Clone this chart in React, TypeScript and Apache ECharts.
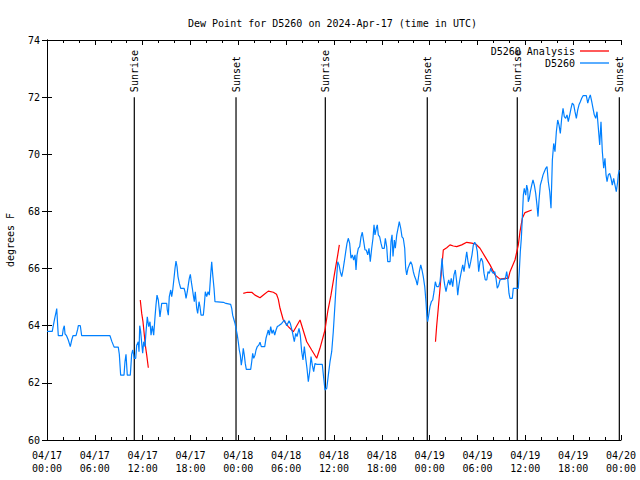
import React, { useEffect, useRef } from "react";
import * as echarts from "echarts";

// x values are hours since 2024-04-17 00:00 UTC
const TITLE = "Dew Point for D5260 on 2024-Apr-17 (time in UTC)";
const START_DAY = 17;
const X_MIN = 0;
const X_MAX = 72;
const Y_MIN = 60;
const Y_MAX = 74;

const sunHours = [10.95, 23.71, 34.91, 47.7, 58.99, 71.79];
const sunLabels = ["Sunrise", "Sunset", "Sunrise", "Sunset", "Sunrise", "Sunset"];
const sunLineTop = 72;

const observed: [number, number][] = [
  [0.0, 63.8], [0.66, 63.8], [0.79, 64.0], [1.0, 64.3], [1.13, 64.47], [1.22, 64.6], [1.34, 64.0], [1.42, 63.65],
  [1.92, 63.65], [2.04, 63.88], [2.17, 64.0], [2.26, 63.71], [2.45, 63.65], [2.67, 63.5], [2.92, 63.27], [3.1, 63.5],
  [3.26, 63.65], [3.64, 63.65], [3.85, 63.88], [3.93, 64.0], [4.18, 64.0], [4.35, 63.65], [7.9, 63.65], [8.12, 63.46],
  [8.32, 63.32], [8.44, 63.25], [8.94, 63.25], [9.07, 63.0], [9.24, 62.27], [9.66, 62.27], [9.78, 62.74], [9.91, 63.0],
  [10.07, 62.27], [10.45, 62.27], [10.62, 63.0], [10.75, 63.15], [10.88, 62.97], [10.95, 62.86], [11.13, 62.86],
  [11.25, 63.32], [11.45, 63.44], [11.54, 63.09], [11.63, 64.0], [11.75, 63.79], [11.88, 63.39], [12.0, 63.04],
  [12.13, 63.44], [12.29, 63.27], [12.42, 63.79], [12.58, 64.31], [12.76, 63.97], [12.92, 64.14], [13.05, 63.67],
  [13.21, 64.0], [13.38, 63.67], [13.55, 64.31], [13.67, 64.72], [13.8, 65.07], [13.96, 64.9], [14.09, 64.55],
  [14.17, 64.31], [14.39, 64.78], [15.02, 64.78], [15.09, 64.55], [15.22, 64.37], [15.34, 65.02], [15.52, 65.25],
  [15.64, 65.02], [15.77, 65.25], [15.93, 65.66], [16.06, 66.01], [16.18, 66.26], [16.31, 66.07], [16.43, 65.72],
  [16.6, 65.48], [16.77, 65.31], [17.19, 65.31], [17.31, 65.19], [17.44, 64.96], [17.6, 65.19], [17.72, 65.42],
  [17.85, 65.66], [17.98, 65.8], [18.1, 65.54], [18.23, 65.31], [18.35, 65.07], [18.48, 64.84], [18.6, 65.19],
  [18.78, 64.61], [18.9, 64.43], [19.07, 64.84], [19.19, 64.67], [19.32, 64.37], [19.61, 64.37], [19.73, 64.72],
  [19.86, 65.19], [20.03, 65.02], [20.2, 65.19], [20.36, 65.07], [20.53, 65.78], [20.66, 66.24], [20.79, 65.78],
  [20.95, 65.31], [21.07, 64.84], [22.12, 64.82], [22.45, 64.78], [23.04, 64.75], [23.17, 64.61], [23.29, 64.37],
  [23.46, 64.2], [23.58, 64.08], [23.75, 63.85], [23.87, 63.67], [24.0, 63.42], [24.12, 63.15], [24.25, 62.97],
  [24.37, 62.62], [24.5, 62.86], [24.62, 63.21], [24.75, 62.97], [24.87, 62.68], [25.0, 62.47], [25.55, 62.47],
  [25.68, 62.74], [25.8, 63.03], [25.93, 62.86], [26.09, 62.97], [26.22, 63.15], [26.38, 63.27], [26.56, 63.32],
  [26.72, 63.42], [26.88, 63.27], [27.31, 63.27], [27.47, 63.56], [27.64, 63.73], [27.76, 63.85], [27.89, 63.67],
  [28.06, 63.97], [28.22, 63.73], [28.39, 63.85], [28.56, 63.67], [28.73, 63.85], [28.89, 63.97], [29.06, 64.0],
  [29.44, 64.08], [29.77, 64.2], [30.07, 64.0], [30.36, 64.17], [30.52, 64.08], [30.77, 63.79], [31.02, 63.44],
  [31.2, 63.73], [31.36, 63.62], [31.61, 63.91], [31.77, 63.67], [31.95, 63.09], [32.11, 62.8], [32.28, 63.27],
  [32.45, 62.86], [32.61, 62.51], [32.78, 62.04], [32.95, 62.39], [33.12, 62.92], [33.28, 62.62], [33.45, 62.39],
  [33.62, 62.68], [33.83, 62.65], [34.53, 62.65], [34.71, 62.16], [34.87, 61.75], [35.09, 61.81], [35.29, 62.27],
  [35.5, 62.74], [35.71, 63.09], [35.91, 63.79], [36.13, 64.78], [36.29, 65.54], [36.47, 66.24], [36.63, 66.13],
  [36.79, 65.89], [36.97, 65.72], [37.13, 65.95], [37.29, 66.24], [37.47, 66.59], [37.63, 66.88], [37.79, 67.06],
  [37.97, 66.88], [38.13, 66.36], [38.3, 66.48], [38.47, 66.3], [38.64, 66.48], [38.76, 65.95], [38.89, 66.48],
  [39.05, 66.71], [39.22, 66.77], [39.39, 67.11], [39.55, 67.27], [39.73, 66.94], [39.89, 66.65], [40.05, 66.65],
  [40.23, 66.48], [40.39, 66.71], [40.55, 66.24], [40.73, 66.71], [40.89, 67.06], [41.02, 67.53], [41.14, 67.18],
  [41.31, 67.41], [41.43, 67.53], [41.56, 67.18], [41.73, 67.11], [41.9, 66.88], [42.06, 66.71], [42.31, 66.71],
  [42.44, 67.06], [42.61, 66.77], [42.74, 66.24], [43.03, 66.24], [43.15, 66.94], [43.28, 67.18], [43.4, 66.42],
  [43.57, 67.0], [43.69, 66.71], [43.87, 67.18], [44.03, 67.41], [44.19, 67.64], [44.37, 67.41], [44.53, 67.11],
  [44.69, 67.06], [44.87, 66.71], [44.99, 66.01], [45.12, 65.78], [45.28, 66.01], [45.45, 66.13], [45.62, 66.24],
  [45.79, 66.13], [45.95, 65.89], [46.12, 65.72], [46.29, 65.6], [46.45, 65.42], [46.58, 65.66], [46.7, 65.89],
  [46.88, 66.13], [47.04, 65.95], [47.2, 65.72], [47.38, 65.37], [47.54, 64.84], [47.63, 64.43], [47.75, 64.14],
  [47.88, 64.37], [48.04, 64.67], [48.21, 64.84], [48.38, 64.9], [48.55, 65.19], [48.71, 65.54], [48.88, 65.37],
  [49.13, 65.37], [49.3, 65.54], [49.42, 65.89], [49.55, 66.36], [49.71, 65.78], [49.89, 65.42], [50.05, 65.19],
  [50.21, 65.42], [50.39, 65.6], [50.55, 65.42], [50.71, 65.66], [50.89, 65.37], [51.05, 65.78], [51.22, 65.95],
  [51.39, 65.54], [51.52, 65.07], [51.64, 65.37], [51.81, 65.66], [51.97, 65.89], [52.15, 66.13], [52.31, 65.89],
  [52.47, 66.24], [52.65, 66.59], [52.81, 66.24], [52.97, 66.01], [53.15, 66.24], [53.31, 66.48], [53.48, 66.83],
  [53.65, 66.92], [53.81, 66.83], [53.98, 66.59], [54.15, 65.89], [54.31, 66.24], [54.48, 66.36], [54.65, 66.24],
  [54.82, 65.83], [54.98, 65.6], [55.16, 65.6], [55.32, 65.89], [55.48, 65.83], [55.66, 66.01], [55.82, 65.89],
  [55.98, 65.83], [56.16, 65.89], [56.32, 65.66], [56.48, 65.31], [56.66, 65.42], [56.82, 65.6], [57.07, 65.63],
  [57.49, 65.63], [57.66, 65.89], [57.79, 65.66], [57.95, 65.13], [58.08, 64.96], [58.37, 64.96], [58.49, 65.31],
  [59.12, 65.31], [59.24, 65.89], [59.37, 66.59], [59.5, 67.06], [59.62, 67.76], [59.75, 68.57], [59.87, 68.81],
  [60.05, 68.57], [60.17, 68.92], [60.3, 68.75], [60.37, 68.34], [60.5, 68.46], [60.63, 68.69], [60.8, 68.92],
  [60.96, 69.1], [61.13, 68.92], [61.3, 68.63], [61.46, 68.22], [61.59, 67.82], [61.72, 68.4], [61.88, 68.92],
  [62.06, 69.1], [62.22, 69.28], [62.38, 69.39], [62.56, 69.51], [62.72, 69.57], [62.88, 69.04], [63.06, 68.69],
  [63.22, 68.11], [63.39, 69.8], [63.56, 70.38], [63.72, 70.09], [63.89, 70.79], [64.06, 71.2], [64.22, 71.03],
  [64.39, 70.73], [64.56, 71.26], [64.73, 71.61], [64.89, 71.32], [65.06, 71.26], [65.23, 71.38], [65.39, 71.14],
  [65.57, 71.38], [65.73, 71.61], [65.89, 71.79], [66.07, 71.73], [66.23, 71.49], [66.4, 71.26], [66.57, 71.55],
  [66.73, 71.73], [66.9, 71.84], [67.07, 71.96], [67.24, 72.05], [67.65, 72.05], [67.83, 71.79], [67.99, 71.96],
  [68.15, 72.08], [68.33, 71.84], [68.49, 71.61], [68.65, 71.38], [68.83, 71.26], [68.99, 71.49], [69.16, 70.91],
  [69.33, 70.33], [69.49, 71.14], [69.66, 70.09], [69.83, 69.51], [69.99, 69.86], [70.12, 69.28], [70.25, 69.04],
  [70.41, 69.28], [70.58, 69.33], [70.75, 69.16], [70.91, 68.92], [71.08, 69.16], [71.25, 68.92], [71.41, 68.69],
  [71.58, 69.04], [71.66, 69.28], [71.79, 69.45],
];

const analysisA: [number, number][] = [
  [11.7, 64.9], [11.88, 64.43], [12.04, 64.14], [12.21, 63.67], [12.33, 63.32], [12.51, 62.97], [12.71, 62.53],
];
const analysisB: [number, number][] = [
  [24.62, 65.13], [25.13, 65.17], [25.68, 65.17], [26.09, 65.07], [26.72, 64.98], [27.26, 65.1], [27.76, 65.21],
  [28.39, 65.17], [28.79, 65.1], [29.01, 64.93], [29.23, 64.61], [29.64, 64.2], [30.27, 63.97], [30.9, 63.79],
  [31.74, 64.2], [32.58, 63.44], [33.2, 63.15], [33.83, 62.86], [34.24, 63.21], [34.87, 63.85], [35.21, 64.49],
  [35.62, 65.07], [36.04, 65.78], [36.47, 66.48], [36.67, 66.83],
];
const analysisC: [number, number][] = [
  [48.73, 63.44], [48.88, 64.0], [49.08, 64.61], [49.3, 65.31], [49.51, 66.01], [49.71, 66.65], [50.14, 66.73],
  [50.55, 66.83], [50.97, 66.79], [51.39, 66.77], [52.02, 66.83], [52.65, 66.92], [53.27, 66.89], [53.81, 66.85],
  [54.31, 66.71], [54.94, 66.42], [55.57, 66.13], [56.2, 65.78], [56.82, 65.63], [57.45, 65.66], [57.87, 65.66],
  [58.08, 65.89], [58.7, 66.3], [59.12, 66.83], [59.33, 67.29], [59.62, 67.76], [59.96, 67.96], [60.8, 68.05],
];

const FONT = '"DejaVu Sans Mono", "Liberation Mono", monospace';
const RED = "#ff0000";
const BLUE = "#0080ff";

function pad(n: number) {
  return n < 10 ? "0" + n : String(n);
}
function xLabel(h: number) {
  const day = START_DAY + Math.floor(h / 24);
  const hr = Math.round(h % 24);
  return "04/" + pad(day) + "\n" + pad(hr) + ":00";
}

export default function App() {
  const ref = useRef<HTMLDivElement>(null);
  useEffect(() => {
    if (!ref.current) return;
    const chart = echarts.init(ref.current, null, { renderer: "svg" });
    const axisLine = { show: true, lineStyle: { color: "#000", width: 1 } };
    const xCommon = {
      type: "value" as const,
      min: X_MIN,
      max: X_MAX,
      interval: 6,
      axisLine,
      axisTick: { show: true, inside: true, length: 5, lineStyle: { color: "#000" } },
      minorTick: { show: true, splitNumber: 3, length: 3, lineStyle: { color: "#000" } },
      splitLine: { show: false },
    };
    const yCommon = {
      type: "value" as const,
      min: Y_MIN,
      max: Y_MAX,
      interval: 2,
      axisLine,
      axisTick: { show: true, inside: true, length: 5, lineStyle: { color: "#000" } },
      splitLine: { show: false },
    };
    const sunData = sunHours.map((h) => [h, Y_MIN, sunLineTop]);
    const redSeries = [analysisA, analysisB, analysisC].map((d) => ({
      type: "line" as const,
      name: "D5260 Analysis",
      data: d,
      showSymbol: false,
      color: RED,
      lineStyle: { color: RED, width: 1.2 },
      xAxisIndex: 0,
      yAxisIndex: 0,
    }));
    const legendText = { fontFamily: FONT, fontSize: 10, color: "#000" };
    chart.setOption({
      animation: false,
      title: {
        text: TITLE,
        left: 183,
        top: 13,
        textStyle: { fontFamily: FONT, fontSize: 10, fontWeight: "normal", color: "#000" },
      },
      legend: [
        {
          data: ["D5260 Analysis"],
          right: 26,
          top: 41,
          align: "right",
          icon: "rect",
          itemWidth: 29,
          itemHeight: 1.3,
          textStyle: legendText,
        },
        {
          data: ["D5260"],
          right: 26,
          top: 53,
          align: "right",
          icon: "rect",
          itemWidth: 29,
          itemHeight: 1.3,
          textStyle: legendText,
        },
      ],
      grid: { left: 47, right: 19, top: 40, bottom: 40, containLabel: false, outerBoundsMode: "none" },
      xAxis: [
        {
          ...xCommon,
          position: "bottom",
          axisLabel: {
            show: true,
            margin: 9,
            fontFamily: FONT,
            fontSize: 10,
            color: "#000",
            lineHeight: 13,
            formatter: (v: number) => xLabel(v),
          },
        },
        { ...xCommon, position: "top", axisLabel: { show: false } },
      ],
      yAxis: [
        {
          ...yCommon,
          position: "left",
          name: "degrees F",
          nameLocation: "middle",
          nameGap: 32,
          nameTextStyle: { fontFamily: FONT, fontSize: 10, color: "#000" },
          axisLabel: { show: true, margin: 7, fontFamily: FONT, fontSize: 10, color: "#000" },
        },
        { ...yCommon, position: "right", axisLabel: { show: false } },
      ],
      series: [
        {
          type: "custom",
          name: "sun",
          data: sunData,
          encode: { x: 0, y: [1, 2] },
          xAxisIndex: 0,
          yAxisIndex: 0,
          silent: true,
          renderItem: (params: any, api: any) => {
            const x = api.value(0);
            const lo = api.coord([x, api.value(1)]);
            const hi = api.coord([x, api.value(2)]);
            return {
              type: "group",
              children: [
                {
                  type: "line",
                  shape: { x1: lo[0], y1: lo[1], x2: hi[0], y2: hi[1] },
                  style: { stroke: "#000", lineWidth: 1.2 },
                },
                {
                  type: "text",
                  x: hi[0],
                  y: hi[1] - 5,
                  rotation: Math.PI / 2,
                  style: {
                    text: sunLabels[params.dataIndex],
                    align: "left",
                    verticalAlign: "middle",
                    font: "10px " + FONT,
                    fill: "#000",
                  },
                },
              ],
            };
          },
        },
        ...redSeries,
        {
          type: "line",
          name: "D5260",
          data: observed,
          showSymbol: false,
          color: BLUE,
          lineStyle: { color: BLUE, width: 1.2 },
          xAxisIndex: 0,
          yAxisIndex: 0,
        },
      ],
    });
    return () => chart.dispose();
  }, []);
  return (
    <div
      ref={ref}
      style={{ position: "fixed", left: 0, top: 0, width: 640, height: 480, background: "#fff" }}
    />
  );
}
